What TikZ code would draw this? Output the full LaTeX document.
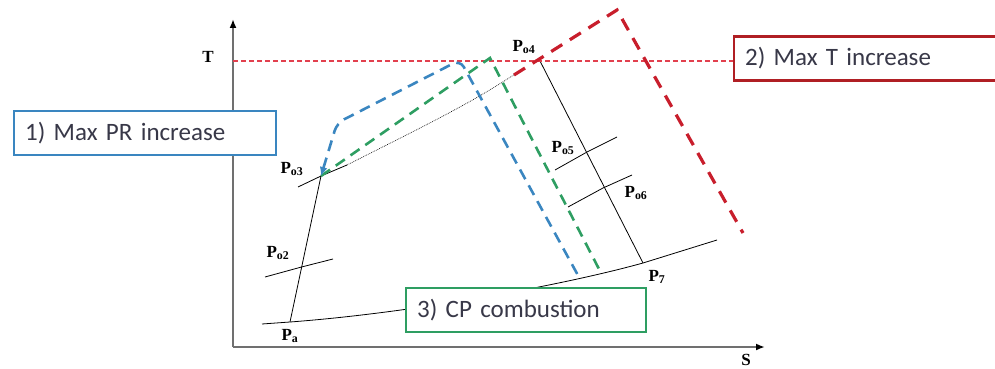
\documentclass[tikz,border=0pt]{standalone}
\usepackage{fontspec}
\setmainfont{Liberation Serif}
\newfontfamily\boxfont{Carlito}
\usepackage{tikz}
\usetikzlibrary{arrows.meta,positioning}
\definecolor{tsblue}{HTML}{3A86C0}
\definecolor{tsgreen}{HTML}{2E9E62}
\definecolor{tsred}{HTML}{C81E2C}
\definecolor{tspink}{HTML}{E2404E}
\definecolor{tsdark}{HTML}{B01F24}
\definecolor{tsgray}{HTML}{707070}
\definecolor{tstext}{HTML}{383848}

\begin{document}
\begin{tikzpicture}[
      x=1pt,y=-1pt,
      axis/.style={tsgray,line width=1.8pt,-{Latex[length=9pt,width=7pt,color=black]}},
      proc/.style={black,line width=0.8pt},
      route/.style={line width=2.6pt,dash pattern=on 11pt off 7pt},
      pt/.style={font=\bfseries\fontsize{17}{17}\selectfont,inner sep=0pt},
      casebox/.style={draw,line width=2.2pt,fill=white,anchor=west,align=left,
        minimum height=44pt,inner xsep=11pt,text=tstext,
        font=\boxfont\fontsize{25}{29}\selectfont}
    ]
    \useasboundingbox (0,0) rectangle (995,369);
    \coordinate (orig) at (233,347);
    \coordinate (tend) at (233,19);
    \coordinate (send) at (765,347);
    \coordinate (pa) at (290,322);
    \coordinate (po2) at (301.5,267);
    \coordinate (po3) at (321,176);
    \coordinate (po4) at (540,61);
    \coordinate (p7) at (643,263);
    \coordinate (po5) at (587,152);
    \coordinate (po6) at (603,188);
    \draw[axis] (orig) -- (tend);
    \draw[axis] (orig) -- (send);
    \node[pt] (tlab) at (208,57) {T};
    \node[pt] (slab) at (746,360) {S};
    % isobars
    \draw[proc] (262,324) -- (pa) .. controls (410,313) and (560,286) .. (p7) -- (717,240);
    \draw[proc] (265,277) -- (po2) -- (333,259);
    \draw[proc] (298,187) -- (po3) -- (347,165);
    \draw[proc,densely dotted,line width=0.6pt] (347,165) .. controls (420,128) and (470,104) .. (515,74);
    \draw[proc] (555,170) -- (po5) -- (617,137);
    \draw[proc] (568,207) -- (po6) -- (632,175);
    % cycle
    \draw[proc] (pa) -- (po3);
    \draw[proc] (po4) -- (p7);
    \draw[tspink,line width=1.1pt,dash pattern=on 5pt off 3pt] (233,61) -- (733,61);
    \draw[route,tsgreen] (po3) -- (490,58) -- (600,271);
    \draw[route,tsblue,{Latex[length=9pt,width=8pt]}-] (po3) [rounded corners=8pt] -- (337,123) -- (460,60) [sharp corners] -- (580,279);
    \draw[route,tsred,line width=3.2pt,dash pattern=on 13pt off 9pt] (514,75) -- (617,10) -- (743,233);
    \node[pt] (lpa) at (290,336) {P\textsubscript{a}};
    \node[pt] (lpo2) at (278,253) {P\textsubscript{o2}};
    \node[pt] (lpo3) at (292,169) {P\textsubscript{o3}};
    \node[pt] (lpo4) at (524,47) {P\textsubscript{o4}};
    \node[pt] (lpo5) at (563,148) {P\textsubscript{o5}};
    \node[pt] (lpo6) at (636,193) {P\textsubscript{o6}};
    \node[pt] (lp7) at (657,277) {P\textsubscript{7}};
    % cases
    \node[casebox,draw=tsblue,text width=240pt] (prbox) at (13,133) {1) Max PR increase};
    \node[casebox,draw=tsdark,text width=250pt] (tbox) at (733,58.5) {2) Max T increase};
    \node[casebox,draw=tsgreen,text width=218pt] (cpbox) at (405,310) {3) CP combustion};
  \end{tikzpicture}
\end{document}
